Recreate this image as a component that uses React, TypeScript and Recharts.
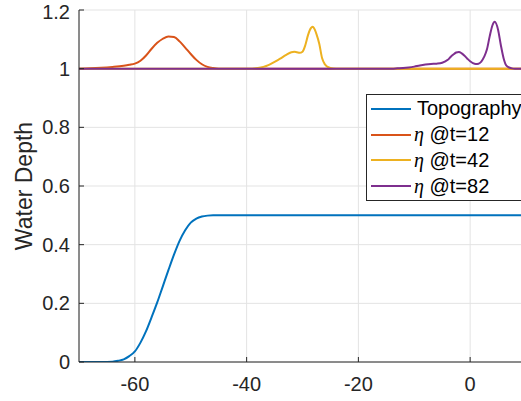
import React from 'react';
import { LineChart, Line, XAxis, YAxis, CartesianGrid, Legend, Label } from 'recharts';

const xTicks = [-60, -40, -20, 0];
const yTicks = [0, 0.2, 0.4, 0.6, 0.8, 1, 1.2];
const yTickLabels = ['0', '0.2', '0.4', '0.6', '0.8', '1', '1.2'];

const topoX = [-70, -66, -64, -63, -62, -61, -60, -59, -58, -57, -56, -55, -54, -53, -52, -51, -50, -49, -48, -47, -46, -40, -20, 0, 10];
const topoY = [0, 0, 0.001, 0.004, 0.009, 0.02, 0.036, 0.066, 0.105, 0.153, 0.203, 0.258, 0.313, 0.366, 0.413, 0.449, 0.475, 0.489, 0.496, 0.499, 0.5, 0.5, 0.5, 0.5, 0.5];

const eta12X = [-70, -68, -66, -64, -62, -61, -60, -59, -58, -57, -56, -55, -54, -53, -52, -51, -50, -49, -48, -47, -46, -45, -40, 10];
const eta12Y = [1, 1.001, 1.003, 1.006, 1.01, 1.013, 1.017, 1.027, 1.045, 1.068, 1.088, 1.102, 1.11, 1.108, 1.093, 1.072, 1.05, 1.03, 1.015, 1.006, 1.002, 1, 1, 1];

const eta42X = [-70, -39, -38, -37, -36, -35, -34, -33, -32, -31.5, -31, -30.5, -30, -29.5, -29, -28.5, -28.2, -28, -27.5, -27, -26.5, -26, -25.5, -25, -24, 10];
const eta42Y = [1, 1, 1.002, 1.006, 1.013, 1.023, 1.034, 1.046, 1.056, 1.058, 1.056, 1.054, 1.058, 1.08, 1.115, 1.138, 1.143, 1.14, 1.118, 1.085, 1.036, 1.015, 1.006, 1.002, 1, 1];

const eta82X = [-70, -14, -13, -12, -11, -10, -9, -8, -7, -6, -5, -4, -3.5, -3, -2.5, -2, -1.5, -1, -0.5, 0, 0.5, 1, 1.5, 2, 2.5, 3, 3.5, 4, 4.4, 5, 5.5, 6, 6.5, 7, 7.5, 8, 10];
const eta82Y = [1, 1, 1.001, 1.002, 1.004, 1.007, 1.011, 1.014, 1.016, 1.017, 1.02, 1.03, 1.04, 1.048, 1.055, 1.057, 1.052, 1.044, 1.034, 1.025, 1.019, 1.016, 1.017, 1.024, 1.04, 1.065, 1.11, 1.148, 1.16, 1.133, 1.08, 1.035, 1.01, 1.004, 1.001, 1, 1];

const seriesNames = ['Topography', 'η @t=12', 'η @t=42', 'η @t=82'];
const seriesColors = ['#0072BD', '#D95319', '#EDB120', '#7E2F8E'];

const zip = (xs: number[], ys: number[]) => xs.map((x, i) => ({ x, y: ys[i] }));
const seriesData = [zip(topoX, topoY), zip(eta12X, eta12Y), zip(eta42X, eta42Y), zip(eta82X, eta82Y)];

const FONT = '"Liberation Sans", Arial, Helvetica, sans-serif';
const AX = '#262626';

const renderLegend = (props: any) => {
  const payload = props.payload || [];
  return (
    <div style={{ border: '1px solid ' + AX, background: '#fff', padding: '1px 0', width: 180, boxSizing: 'border-box', fontFamily: FONT, fontSize: 20, color: '#000' }}>
      {payload.map((p: any) => {
        const name: string = String(p.value);
        const isEta = name.startsWith('η');
        return (
          <div key={name} style={{ display: 'flex', alignItems: 'center', height: 25.8, whiteSpace: 'nowrap' }}>
            <span style={{ display: 'inline-block', width: 40, height: 2, background: p.color, marginLeft: 4, marginRight: 6 }} />
            {isEta ? (
              <span>
                <span style={{ fontFamily: '"Liberation Serif", "Times New Roman", serif', fontStyle: 'italic', marginLeft: -3 }}>η</span>
                {name.slice(1)}
              </span>
            ) : (
              <span>{name}</span>
            )}
          </div>
        );
      })}
    </div>
  );
};

const renderYLabel = (props: any) => {
  const vb = props.viewBox || { x: 29, y: 10, width: 50, height: 352 };
  const cx = vb.x + 3;
  const cy = vb.y + vb.height / 2;
  return (
    <text x={cx} y={cy} transform={`rotate(-90, ${cx}, ${cy})`} textAnchor="middle" fill={AX} fontSize={23} fontFamily={FONT}>
      Water Depth
    </text>
  );
};

export default function App() {
  return (
    <div style={{ position: 'absolute', left: 0, top: 0, width: 521, height: 401, overflow: 'hidden', background: '#fff' }}>
      <LineChart width={540} height={401} margin={{ top: 10, right: 14, bottom: 0, left: 29 }}>
        <CartesianGrid stroke="#e3e3e3" strokeWidth={1} />
        <XAxis
          type="number"
          dataKey="x"
          domain={[-70, 10]}
          ticks={xTicks}
          allowDataOverflow
          height={39}
          stroke={AX}
          tickSize={-5}
          tickMargin={20}
          tick={{ fontSize: 20, fill: AX, fontFamily: FONT }}
        />
        <XAxis
          xAxisId="top"
          orientation="top"
          type="number"
          dataKey="x"
          domain={[-70, 10]}
          ticks={xTicks}
          allowDataOverflow
          height={0}
          stroke={AX}
          tickSize={-5}
          tickFormatter={() => ''}
        />
        <YAxis
          type="number"
          domain={[0, 1.2]}
          ticks={yTicks}
          allowDataOverflow
          width={50}
          stroke={AX}
          tickSize={-5}
          tickMargin={14}
          tickFormatter={(v: number) => yTickLabels[yTicks.indexOf(v)] ?? String(v)}
          tick={{ fontSize: 20, fill: AX, fontFamily: FONT }}
        >
          <Label content={renderYLabel} />
        </YAxis>
        {seriesData.map((d, i) => (
          <Line
            key={seriesNames[i]}
            data={d}
            dataKey="y"
            name={seriesNames[i]}
            type="monotone"
            stroke={seriesColors[i]}
            strokeWidth={2}
            dot={false}
            activeDot={false}
            isAnimationActive={false}
          />
        ))}
        <Legend
          layout="vertical"
          align="center"
          verticalAlign="middle"
          content={renderLegend}
          wrapperStyle={{ left: 366, top: 94, width: 180 }}
        />
      </LineChart>
    </div>
  );
}
